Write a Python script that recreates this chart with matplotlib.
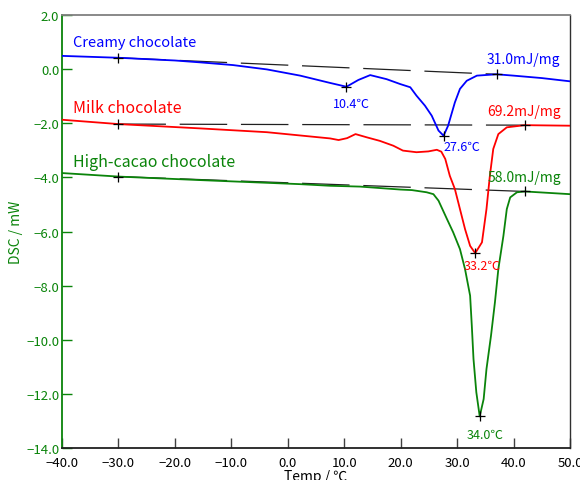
import matplotlib
matplotlib.use('Agg')
import matplotlib.pyplot as plt
from matplotlib.ticker import FuncFormatter

plt.rcParams['font.family'] = ['Noto Sans CJK JP', 'DejaVu Sans']

blue = '#0000ff'
red = '#ff0000'
green = '#0a840a'

# Creamy chocolate
creamy_t = [-40, -30, -20, -15.5, -9.7, -3.7, 2.2, 7.5, 10.4, 12.5, 14.6, 17.5, 19.9,
            21.7, 22.8, 24.3, 25.5, 26.7, 27.6, 28.4, 29.6, 30.5, 31.7, 33.5, 37, 40, 45, 50]
creamy_y = [0.49, 0.42, 0.32, 0.25, 0.15, -0.01, -0.24, -0.51, -0.65, -0.40, -0.22, -0.37, -0.55,
            -0.67, -0.98, -1.35, -1.72, -2.27, -2.46, -2.09, -1.23, -0.73, -0.43, -0.24, -0.19, -0.24, -0.33, -0.45]

# Milk chocolate
milk_t = [-40, -30, -15.5, -3.7, 7.5, 9, 10.5, 12, 14, 16.3, 18.7, 20.4, 22.8, 24.9, 26.4, 27.2,
          27.9, 28.7, 29.6, 30.5, 31.4, 32.3, 33.2, 34.4, 35.2, 35.8, 36.4, 37.3, 38.8, 42, 50]
milk_y = [-1.87, -2.03, -2.19, -2.33, -2.56, -2.62, -2.55, -2.40, -2.52, -2.65, -2.83, -3.01, -3.07, -3.04, -2.98, -3.05,
          -3.32, -3.94, -4.43, -5.17, -5.91, -6.53, -6.80, -6.40, -5.17, -3.94, -2.95, -2.40, -2.15, -2.07, -2.09]

# High-cacao chocolate
cacao_t = [-40, -30, -15.5, 2.2, 7.5, 12.8, 20, 22, 24.6, 25.8, 26.7, 28.2, 29.3, 30.5, 31.4, 32.3,
           32.6, 32.9, 33.4, 34.0, 34.7, 35.2, 36.0, 36.7, 37.3, 38.2, 38.8, 39.4, 40.6, 42, 50]
cacao_y = [-3.84, -3.97, -4.10, -4.25, -4.31, -4.34, -4.45, -4.47, -4.55, -4.62, -4.86, -5.54, -6.03, -6.65, -7.39, -8.37,
           -9.48, -10.71, -11.94, -12.83, -12.19, -11.08, -9.85, -8.61, -7.39, -6.16, -5.17, -4.74, -4.55, -4.52, -4.62]

# baseline end points and marked points
creamy_base = ([-30, 37], [0.42, -0.19])
milk_base = ([-30, 42], [-2.03, -2.07])
cacao_base = ([-30, 42], [-3.97, -4.52])
mark_t = [-30, 10.4, 27.6, 37, -30, 33.2, 42, -30, 34.0, 42]
mark_y = [0.42, -0.65, -2.46, -0.19, -2.03, -6.80, -2.07, -3.97, -12.83, -4.52]

fig = plt.figure(figsize=(5.8, 4.81), dpi=100)
ax = fig.add_axes([0.1069, 0.0665, 0.8759, 0.9002])

for bt, by in [creamy_base, milk_base, cacao_base]:
    ax.plot(bt, by, color='#202020', lw=0.9, dashes=(38, 11), zorder=2)

ax.plot(creamy_t, creamy_y, color=blue, lw=1.3, zorder=3)
ax.plot(milk_t, milk_y, color=red, lw=1.3, zorder=3)
ax.plot(cacao_t, cacao_y, color=green, lw=1.3, zorder=3)
ax.plot(mark_t, mark_y, ls='none', marker='+', ms=7, mew=0.9, color='black', zorder=4)

ax.text(-38.05, 0.99, 'Creamy chocolate', color=blue, fontsize=10.5, va='center')
ax.text(-38.05, -1.40, 'Milk chocolate', color=red, fontsize=11.5, va='center')
ax.text(-38.05, -3.43, 'High-cacao chocolate', color=green, fontsize=11.5, va='center')

ax.text(48.2, 0.37, '31.0mJ/mg', color=blue, fontsize=10, ha='right', va='center')
ax.text(48.4, -1.54, '69.2mJ/mg', color=red, fontsize=10, ha='right', va='center')
ax.text(48.4, -4.0, '58.0mJ/mg', color=green, fontsize=10, ha='right', va='center')

ax.text(11.3, -1.25, '10.4℃', color=blue, fontsize=9, ha='center', va='center')
ax.text(30.9, -2.85, '27.6℃', color=blue, fontsize=9, ha='center', va='center')
ax.text(34.5, -7.27, '33.2℃', color=red, fontsize=9, ha='center', va='center')
ax.text(35.0, -13.49, '34.0℃', color=green, fontsize=9, ha='center', va='center')

ax.set_xlim(-40, 50)
ax.set_ylim(-14, 2)
ax.set_xticks(range(-40, 51, 10))
ax.set_yticks(range(-14, 3, 2))
fmt = FuncFormatter(lambda v, p: ('%.1f' % v).replace('-', '\u2212'))
ax.xaxis.set_major_formatter(fmt)
ax.yaxis.set_major_formatter(fmt)
ax.tick_params(axis='x', direction='in', length=7, width=1, color='#404040',
               labelsize=9.5, labelcolor='black', pad=6)
ax.tick_params(axis='y', direction='in', length=7, width=1, color=green,
               labelsize=9.5, labelcolor=green, pad=2)

ax.spines['left'].set_color(green)
ax.spines['left'].set_linewidth(1.3)
ax.spines['bottom'].set_color('#202020')
ax.spines['bottom'].set_linewidth(1.3)
ax.spines['top'].set_color('#808080')
ax.spines['top'].set_linewidth(1.3)
ax.spines['right'].set_color('#303030')
ax.spines['right'].set_linewidth(1.0)

ax.set_ylabel('DSC / mW', color=green, fontsize=10)
ax.yaxis.set_label_coords(-0.076, 0.5)
ax.set_xlabel('Temp / ℃', color='black', fontsize=10)
ax.xaxis.set_label_coords(0.5, -0.0485)

fig.savefig('out.png', dpi=100)
